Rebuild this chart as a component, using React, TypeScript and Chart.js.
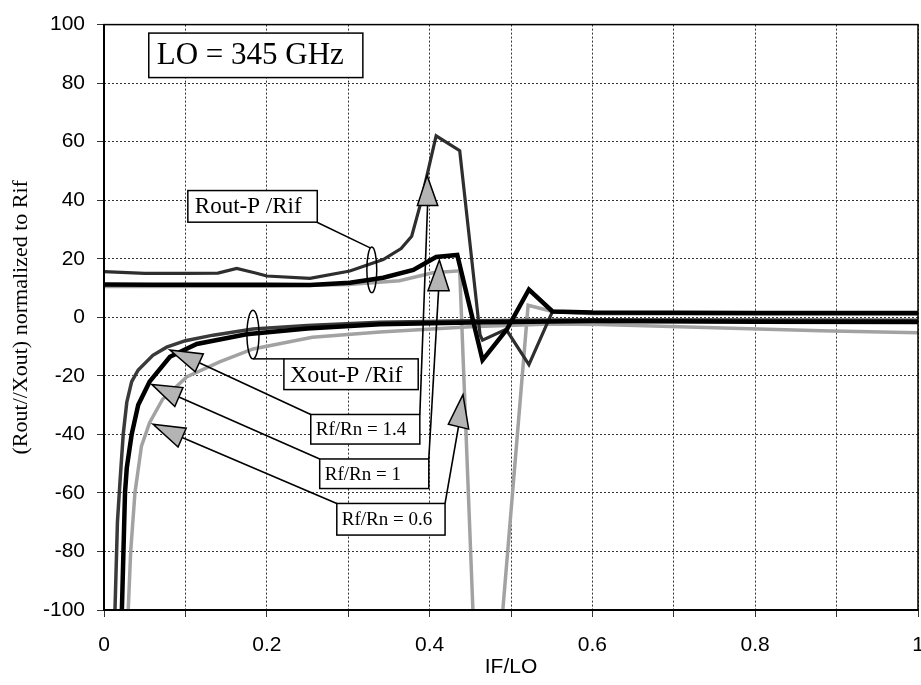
import React, { useEffect, useRef } from 'react';
import { Chart, registerables } from 'chart.js';

Chart.register(...registerables);

// ---------- data (x = IF/LO, y = normalized value) ----------
const xTickLabels = ['0', '0.2', '0.4', '0.6', '0.8', '1'];

// Rout-P/Rif curves
const rout14X = [0, 0.05, 0.1, 0.14, 0.163, 0.185, 0.2, 0.253, 0.302, 0.343, 0.365, 0.378, 0.388, 0.408, 0.437, 0.462, 0.465, 0.494, 0.522, 0.551, 0.6, 0.8, 1];
const rout14Y = [15.6, 15.0, 15.0, 15.1, 16.7, 15.2, 14.1, 13.3, 15.8, 19.7, 23.5, 27.7, 37.9, 62, 56.9, -6, -7.8, -4.1, -16.2, 2.0, 1.6, 1.4, 1.3];

const rout1X = [0, 0.06, 0.2, 0.253, 0.302, 0.343, 0.38, 0.408, 0.434, 0.465, 0.495, 0.522, 0.551, 0.6, 0.8, 1];
const rout1Y = [11.2, 11.1, 11.1, 11.0, 11.8, 13.5, 16.2, 20.6, 21.3, -14.6, -4.1, 9.5, 2.0, 1.6, 1.5, 1.5];

const rout06X = [0, 0.2, 0.3, 0.363, 0.404, 0.437, 0.456, 0.484, 0.521, 0.551, 0.6, 1];
const rout06Y = [10.5, 10.6, 11.2, 12.5, 15.2, 15.9, -120, -120, 4.1, 2.0, 1.2, 1.0];

// Xout-P/Rif curves
const xout14X = [0.0125, 0.0165, 0.0197, 0.0236, 0.028, 0.034, 0.042, 0.06, 0.077, 0.1, 0.134, 0.183, 0.25, 0.339, 0.45, 0.6, 0.8, 1];
const xout14Y = [-110, -70, -56, -40, -29, -22, -18, -13, -10.2, -8, -6.1, -4.0, -2.8, -1.7, -1.2, -0.8, -0.9, -1.0];

const xout1X = [0.0215, 0.0258, 0.028, 0.034, 0.042, 0.056, 0.081, 0.114, 0.175, 0.25, 0.339, 0.45, 0.6, 0.8, 1];
const xout1Y = [-105, -60, -51.4, -40, -30, -22, -13.5, -9.1, -5.8, -3.8, -2.4, -1.8, -1.3, -1.5, -1.6];

const xout06X = [0.029, 0.0328, 0.038, 0.046, 0.056, 0.072, 0.102, 0.142, 0.183, 0.256, 0.339, 0.45, 0.55, 0.61, 0.75, 0.88, 1];
const xout06Y = [-105, -80, -60, -44, -36, -28, -20.3, -15.2, -10.8, -6.8, -5, -3.2, -2.3, -2.5, -3.6, -4.6, -5.3];

// ---------- annotations (in data units) ----------
const boxLabels = ['LO = 345 GHz', 'Rout-P /Rif', 'Xout-P /Rif', 'Rf/Rn = 1.4', 'Rf/Rn = 1', 'Rf/Rn = 0.6'];
const boxX0 = [0.055, 0.103, 0.221, 0.254, 0.265, 0.286];
const boxX1 = [0.318, 0.262, 0.386, 0.388, 0.399, 0.419];
const boxYTop = [97.1, 43.3, -14.2, -33.2, -48.4, -63.6];
const boxYBot = [81.9, 32.5, -24.7, -43.3, -58.5, -74.4];
const boxFont = [31, 23, 24, 19, 19, 19];
const boxPad = [8, 7, 6, 5, 5, 5];

// ellipses: center x, center y, radius x, radius y
const ellCX = [0.329, 0.183];
const ellCY = [16.2, -5.9];
const ellRX = [0.0061, 0.0074];
const ellRY = [7.8, 8.3];
// ellipse leader lines
const leadX0 = [0.259, 0.183];
const leadY0 = [32.8, -14.2];
const leadX1 = [0.327, 0.221];
const leadY1 = [23.7, -14.2];

// arrows: tip, base a, base b, line end (at box corner)
const arrTipX = [0.081, 0.059, 0.060, 0.397, 0.412, 0.441];
const arrTipY = [-11.2, -23, -36.5, 48.4, 19.6, -26.4];
const arrAX = [0.122, 0.097, 0.101, 0.385, 0.398, 0.423];
const arrAY = [-12.5, -24, -37.9, 38.2, 9.1, -36.5];
const arrBX = [0.112, 0.087, 0.091, 0.410, 0.424, 0.448];
const arrBY = [-18.6, -30.5, -44.3, 38.2, 9.1, -38.2];
const arrEndX = [0.254, 0.265, 0.286, 0.388, 0.399, 0.419];
const arrEndY = [-33.2, -48.4, -63.6, -33.2, -48.4, -63.6];

const toPts = (xs: number[], ys: number[]) => xs.map((x, i) => ({ x, y: ys[i] }));

const annotPlugin = {
  id: 'annotations',
  afterDatasetsDraw(chart: any) {
    const { ctx, chartArea } = chart;
    const xs = chart.scales.x;
    const ys = chart.scales.y;
    const X = (v: number) => xs.getPixelForValue(v);
    const Y = (v: number) => ys.getPixelForValue(v);
    ctx.save();
    // frame
    ctx.strokeStyle = '#000';
    ctx.lineWidth = 1.5;
    ctx.strokeRect(chartArea.left, chartArea.top, chartArea.right - chartArea.left, chartArea.bottom - chartArea.top);
    ctx.lineWidth = 2;
    ctx.beginPath();
    ctx.moveTo(chartArea.left, chartArea.top);
    ctx.lineTo(chartArea.left, chartArea.bottom);
    ctx.lineTo(chartArea.right, chartArea.bottom);
    ctx.stroke();

    // leader lines for ellipses
    ctx.lineWidth = 1.5;
    for (let i = 0; i < leadX0.length; i++) {
      ctx.beginPath();
      ctx.moveTo(X(leadX0[i]), Y(leadY0[i]));
      ctx.lineTo(X(leadX1[i]), Y(leadY1[i]));
      ctx.stroke();
    }
    // ellipses
    for (let i = 0; i < ellCX.length; i++) {
      const cx = X(ellCX[i]);
      const cy = Y(ellCY[i]);
      const rx = X(ellCX[i] + ellRX[i]) - cx;
      const ry = cy - Y(ellCY[i] + ellRY[i]);
      ctx.beginPath();
      ctx.ellipse(cx, cy, rx, ry, 0, 0, Math.PI * 2);
      ctx.stroke();
    }
    // arrow lines
    ctx.lineWidth = 1.6;
    for (let i = 0; i < arrTipX.length; i++) {
      const mx = (X(arrAX[i]) + X(arrBX[i])) / 2;
      const my = (Y(arrAY[i]) + Y(arrBY[i])) / 2;
      ctx.beginPath();
      ctx.moveTo(mx, my);
      ctx.lineTo(X(arrEndX[i]), Y(arrEndY[i]));
      ctx.stroke();
    }
    // arrow heads
    for (let i = 0; i < arrTipX.length; i++) {
      ctx.beginPath();
      ctx.moveTo(X(arrTipX[i]), Y(arrTipY[i]));
      ctx.lineTo(X(arrAX[i]), Y(arrAY[i]));
      ctx.lineTo(X(arrBX[i]), Y(arrBY[i]));
      ctx.closePath();
      ctx.fillStyle = '#b4b4b4';
      ctx.fill();
      ctx.strokeStyle = '#000';
      ctx.lineWidth = 1.5;
      ctx.stroke();
    }
    // text boxes
    for (let i = 0; i < boxLabels.length; i++) {
      const x0 = X(boxX0[i]);
      const x1 = X(boxX1[i]);
      const y0 = Y(boxYTop[i]);
      const y1 = Y(boxYBot[i]);
      ctx.fillStyle = '#fff';
      ctx.fillRect(x0, y0, x1 - x0, y1 - y0);
      ctx.strokeStyle = '#000';
      ctx.lineWidth = 1.5;
      ctx.strokeRect(x0, y0, x1 - x0, y1 - y0);
      ctx.fillStyle = '#000';
      ctx.font = `${boxFont[i]}px "Liberation Serif", "Times New Roman", serif`;
      ctx.textAlign = 'left';
      ctx.textBaseline = 'middle';
      ctx.fillText(boxLabels[i], x0 + boxPad[i], (y0 + y1) / 2 + 1);
    }
    ctx.restore();
  },
};

export default function App() {
  const canvasRef = useRef<HTMLCanvasElement | null>(null);

  useEffect(() => {
    document.body.style.margin = '0';
    const canvas = canvasRef.current;
    if (!canvas) return;
    const sans = '"Liberation Sans", Arial, Helvetica, sans-serif';
    const serif = '"Liberation Serif", "Times New Roman", serif';

    const chart = new Chart(canvas, {
      type: 'line',
      data: {
        datasets: [
          { label: 'Rout Rf/Rn=1', data: toPts(rout1X, rout1Y), borderColor: '#000', borderWidth: 4.5 },
          { label: 'Xout Rf/Rn=1', data: toPts(xout1X, xout1Y), borderColor: '#000', borderWidth: 4.5 },
          { label: 'Rout Rf/Rn=1.4', data: toPts(rout14X, rout14Y), borderColor: '#2e2e2e', borderWidth: 3.2 },
          { label: 'Xout Rf/Rn=1.4', data: toPts(xout14X, xout14Y), borderColor: '#3a3a3a', borderWidth: 3.5 },
          { label: 'Rout Rf/Rn=0.6', data: toPts(rout06X, rout06Y), borderColor: '#a2a2a2', borderWidth: 3.5 },
          { label: 'Xout Rf/Rn=0.6', data: toPts(xout06X, xout06Y), borderColor: '#a2a2a2', borderWidth: 3.5 },
        ].map((d) => ({ ...d, pointRadius: 0, tension: 0, fill: false, borderJoinStyle: 'miter' as const })),
      },
      options: {
        responsive: false,
        animation: false,
        layout: { padding: { left: 0, top: 19, right: 3, bottom: 0 } },
        plugins: { legend: { display: false }, tooltip: { enabled: false } },
        scales: {
          x: {
            type: 'linear',
            min: 0,
            max: 1,
            ticks: {
              stepSize: 0.1,
              autoSkip: false,
              maxRotation: 0,
              padding: 16,
              color: '#000',
              font: { family: sans, size: 21 },
              callback: (v: any) => {
                const k = Math.round(Number(v) * 10);
                return k % 2 === 0 ? xTickLabels[k / 2] : '';
              },
            },
            grid: { color: '#333', lineWidth: 1, tickLength: 7 },
            border: { display: false, dash: [2, 2] },
            title: {
              display: true,
              text: 'IF/LO',
              color: '#000',
              font: { family: sans, size: 21 },
              padding: { top: 0, bottom: 5 },
            },
            afterFit: (s: any) => {
              s.height = 75;
              s.paddingLeft = 0;
              s.paddingRight = 0;
            },
          },
          y: {
            type: 'linear',
            min: -100,
            max: 100,
            ticks: {
              stepSize: 20,
              padding: 12,
              color: '#000',
              font: { family: sans, size: 21 },
            },
            grid: { color: '#333', lineWidth: 1, tickLength: 7 },
            border: { display: false, dash: [2, 2] },
            title: {
              display: true,
              text: '(Rout//Xout) normalized to Rif',
              color: '#000',
              font: { family: serif, size: 22 },
              padding: { top: 8, bottom: 0 },
            },
            afterFit: (s: any) => {
              s.width = 104;
            },
          },
        },
      },
      plugins: [annotPlugin],
    });
    return () => chart.destroy();
  }, []);

  return (
    <div style={{ width: 921, height: 685, background: '#fff' }}>
      <canvas ref={canvasRef} width={921} height={685} style={{ display: 'block' }} />
    </div>
  );
}
